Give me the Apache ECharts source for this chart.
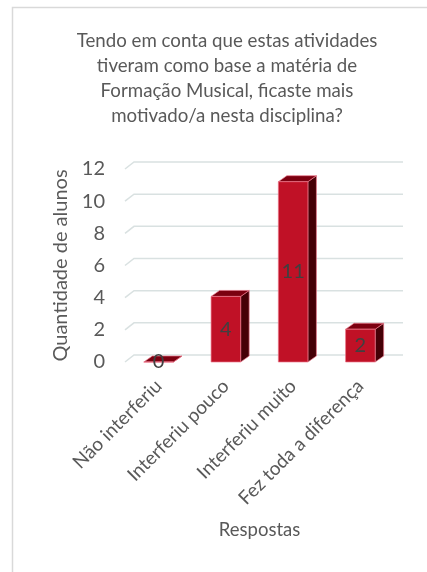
<!DOCTYPE html>
<html>
<head>
<meta charset="utf-8">
<script src="https://cdn.jsdelivr.net/npm/echarts@6/dist/echarts.min.js"></script>
<style>
  html, body { margin: 0; padding: 0; background: #ffffff; }
  #chart { width: 427px; height: 572px; }
</style>
</head>
<body>
<div id="chart"></div>
<script>
// Survey question and answers
const titleLines = [
  'Tendo em conta que estas atividades',
  'tiveram como base a matéria de',
  'Formação Musical, ficaste mais',
  'motivado/a nesta disciplina?'
];
const categories = ['Não interferiu', 'Interferiu pouco', 'Interferiu muito', 'Fez toda a diferença'];
const counts = [0, 4, 11, 2];
const yTicks = [0, 2, 4, 6, 8, 10, 12];
const yAxisTitle = 'Quantidade de alunos';
const xAxisTitle = 'Respostas';

const FONT = 'Lato, "Noto Sans", sans-serif';
const TEXT = '#595959';

// depth offsets for the pseudo-3D look
const WALL_DX = 9, WALL_DY = -7;   // back wall relative to the front plane
const BAR_DX = 8.5, BAR_DY = -6;   // bar depth

const chart = echarts.init(document.getElementById('chart'), null, { renderer: 'canvas' });

// gridlines drawn on the back wall, with a slanted floor segment at the left
function renderGridline(params, api) {
  const cs = params.coordSys;
  const y = api.coord([0, api.value(1)])[1];
  const x0 = cs.x;
  const x1 = cs.x + cs.width;
  return {
    type: 'polyline',
    shape: { points: [[x0, y], [x0 + WALL_DX, y + WALL_DY], [x1 + WALL_DX, y + WALL_DY]] },
    style: { stroke: '#d9e1e1', lineWidth: 1.5, fill: null },
    silent: true
  };
}

// a box-shaped column: front face, right side and top
function renderBar(params, api) {
  const idx = api.value(0);
  const v = api.value(1);
  const base = api.coord([idx, 0]);
  const top = api.coord([idx, v]);
  const bw = api.size([1, 0])[0] * 0.44;
  const xl = base[0] - bw / 2, xr = base[0] + bw / 2;
  const yb = base[1], yt = top[1];
  const edge = 'rgba(236,120,140,0.85)';
  return {
    type: 'group',
    children: [
      {
        type: 'polygon',
        shape: { points: [[xr, yt], [xr + BAR_DX, yt + BAR_DY], [xr + BAR_DX, yb + BAR_DY], [xr, yb]] },
        style: { fill: '#450006', stroke: edge, lineWidth: 0.8 }
      },
      {
        type: 'polygon',
        shape: { points: [[xl, yt], [xr, yt], [xr + BAR_DX, yt + BAR_DY], [xl + BAR_DX, yt + BAR_DY]] },
        style: { fill: '#7c0010', stroke: edge, lineWidth: 0.8 }
      },
      {
        type: 'rect',
        shape: { x: xl, y: yt, width: bw, height: yb - yt },
        style: { fill: '#c01126', stroke: edge, lineWidth: 0.8 }
      },
      {
        type: 'text',
        x: base[0],
        y: (yt + yb) / 2,
        style: {
          text: String(v),
          align: 'center',
          verticalAlign: 'middle',
          font: '20px ' + FONT,
          fill: '#404040'
        },
        z2: 10
      }
    ]
  };
}

const option = {
  animation: false,
  backgroundColor: '#ffffff',
  graphic: [
    {
      type: 'rect',
      shape: { x: 12.5, y: 7.5, width: 700, height: 800 },
      style: { fill: null, stroke: '#d9d9d9', lineWidth: 1.5 },
      silent: true
    },
    {
      type: 'text',
      x: 227,
      y: 28,
      style: {
        text: titleLines.join('\n'),
        align: 'center',
        verticalAlign: 'top',
        font: '18.7px ' + FONT,
        lineHeight: 25,
        fill: TEXT
      }
    }
  ],
  grid: [
    { left: 125, right: 33, top: 169, bottom: 210 },
    { left: 125, right: 33, top: 165.3, bottom: 210 }
  ],
  xAxis: [
    {
      type: 'category',
      gridIndex: 0,
      data: categories,
      axisLine: { show: false },
      axisTick: { show: false },
      axisLabel: {
        rotate: 45,
        margin: 21,
        interval: 0,
        color: TEXT,
        fontSize: 19,
        fontFamily: FONT
      },
      name: xAxisTitle,
      nameLocation: 'middle',
      nameGap: 159,
      nameTextStyle: { color: TEXT, fontSize: 18.5, fontFamily: FONT }
    },
    {
      type: 'category',
      gridIndex: 1,
      data: categories,
      show: false
    }
  ],
  yAxis: [
    {
      type: 'value',
      gridIndex: 0,
      min: 0,
      max: 12,
      interval: 2,
      axisLine: { show: false },
      axisTick: { show: false },
      splitLine: { show: false },
      axisLabel: { margin: 20, color: TEXT, fontSize: 20, fontFamily: FONT },
      name: yAxisTitle,
      nameLocation: 'middle',
      nameGap: 52,
      nameRotate: 90,
      nameTextStyle: { color: TEXT, fontSize: 20, fontFamily: FONT }
    },
    {
      type: 'value',
      gridIndex: 1,
      min: 0,
      max: 12,
      show: false
    }
  ],
  series: [
    {
      type: 'custom',
      name: 'grelha',
      xAxisIndex: 0,
      yAxisIndex: 0,
      data: yTicks.map(v => [0, v]),
      renderItem: renderGridline,
      z: 1,
      silent: true
    },
    {
      type: 'custom',
      name: 'Quantidade de alunos',
      xAxisIndex: 1,
      yAxisIndex: 1,
      data: counts.map((v, i) => [i, v]),
      renderItem: renderBar,
      z: 2
    }
  ]
};

chart.setOption(option);
</script>
</body>
</html>
